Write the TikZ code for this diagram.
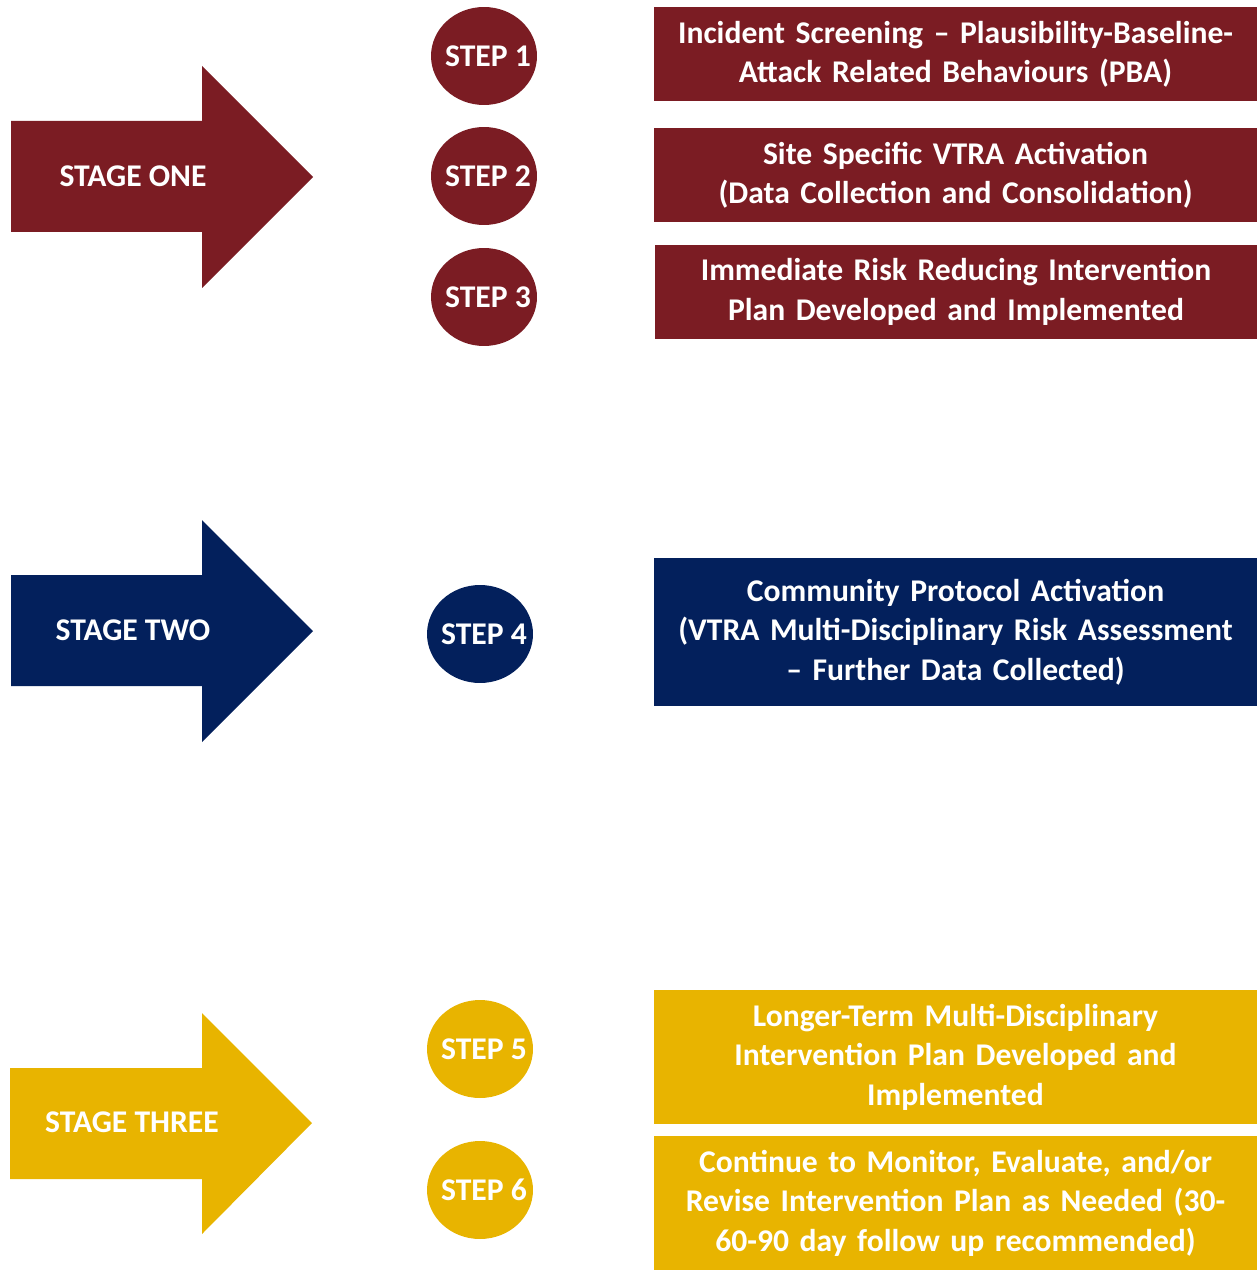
\documentclass[tikz,border=0pt]{standalone}
\usepackage{fontspec}
\setmainfont{Carlito}
\usetikzlibrary{shapes.geometric}
\definecolor{wine}{HTML}{7B1C23}
\definecolor{navy}{HTML}{03205C}
\definecolor{gold}{HTML}{E8B400}
\begin{document}
\begin{tikzpicture}[x=0.02cm,y=-0.02cm,
		every node/.style={text=white,font=\fontsize{18}{22.4}\selectfont\bfseries},
		stepdot/.style={ellipse,inner sep=0pt,minimum width=2.12cm,minimum height=1.96cm},
		infobox/.style={rectangle,inner sep=0pt,minimum width=12.06cm,text width=11.7cm,align=center}]
	\def\st#1{\makebox[0pt]{\hspace{4.5pt}STEP #1}}
	\useasboundingbox (0,0) rectangle (1257,1270);
	% stage arrows
	\fill[wine] (11,121) -| (202,66) -- (313,177) -- (202,288) |- (11,232) -- cycle;
	\fill[navy] (11,575) -| (202,520) -- (313,631) -- (202,742) |- (11,686) -- cycle;
	\fill[gold] (10,1068) -| (202,1013) -- (312,1123) -- (202,1234) |- (10,1179) -- cycle;
	\node (one) at (133,176) {STAGE ONE};
	\node (two) at (133,630) {STAGE TWO};
	\node (three) at (132,1122) {STAGE THREE};
	% steps
	\node[stepdot,fill=wine] (s1) at (484,56) {\st1};
	\node[stepdot,fill=wine] (s2) at (484,176) {\st2};
	\node[stepdot,fill=wine] (s3) at (484,297) {\st3};
	\node[stepdot,fill=navy] (s4) at (480,634) {\st4};
	\node[stepdot,fill=gold] (s5) at (480,1049) {\st5};
	\node[stepdot,fill=gold] (s6) at (480,1190) {\st6};
	% boxes
	\node[infobox,fill=wine,minimum height=1.88cm] (b1) at (955.5,54)
		{Incident Screening -- Plausibility-Baseline-\\Attack Related Behaviours (PBA)};
	\node[infobox,fill=wine,minimum height=1.88cm] (b2) at (955.5,175)
		{Site Specific VTRA Activation\\(Data Collection and Consolidation)};
	\node[infobox,fill=wine,minimum height=1.88cm] (b3) at (956,292)
		{Immediate Risk Reducing Intervention\\Plan Developed and Implemented};
	\node[infobox,fill=navy,minimum height=2.96cm] (b4) at (955.5,632)
		{Community Protocol Activation\\(VTRA Multi-Disciplinary Risk Assessment\\-- Further Data Collected)};
	\node[infobox,fill=gold,minimum height=2.68cm] (b5) at (955.5,1057)
		{Longer-Term Multi-Disciplinary\\Intervention Plan Developed and\\Implemented};
	\node[infobox,fill=gold,minimum height=2.68cm] (b6) at (955.5,1203)
		{Continue to Monitor, Evaluate, and/or\\Revise Intervention Plan as Needed (30-\\60-90 day follow up recommended)};
\end{tikzpicture}
\end{document}
